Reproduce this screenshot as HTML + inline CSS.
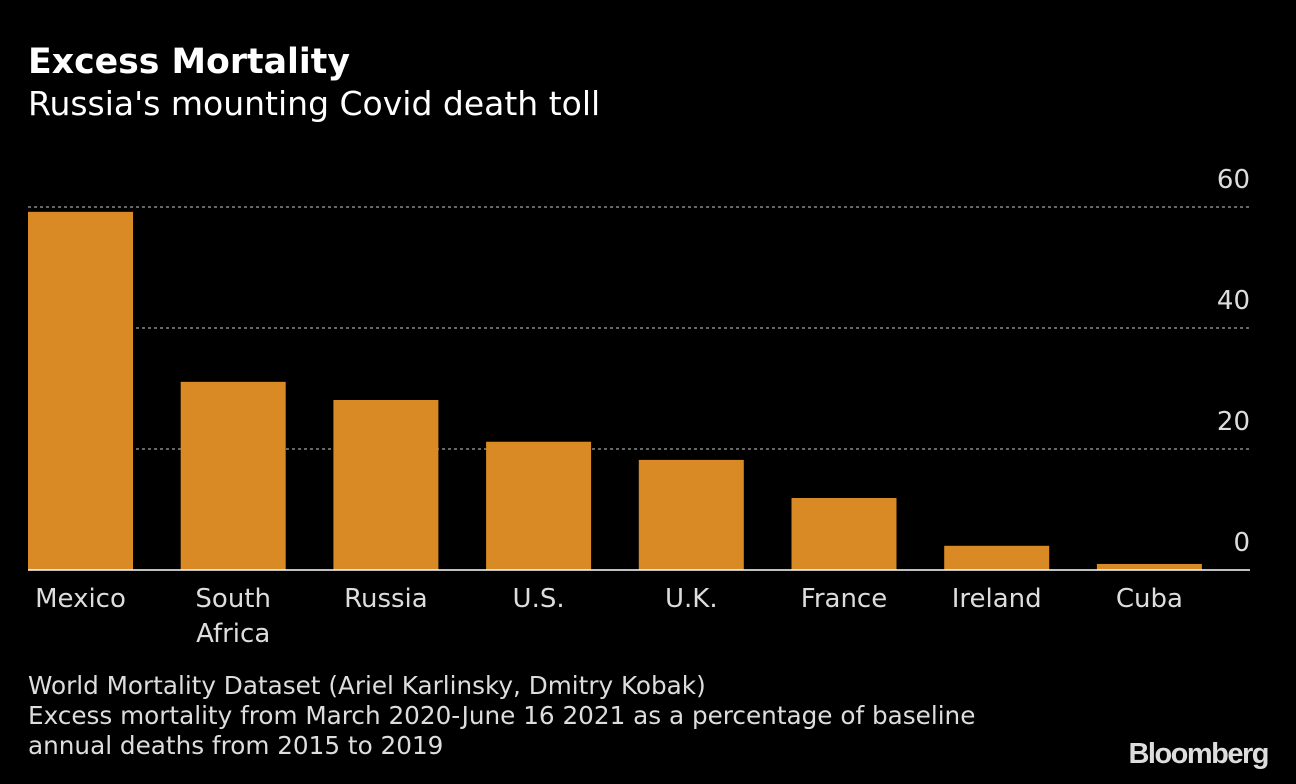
<!DOCTYPE html>
<html><head><meta charset="utf-8">
<style>
html,body{margin:0;padding:0;background:#000;}
body{width:1296px;height:784px;position:relative;overflow:hidden;font-family:"DejaVu Sans","Liberation Sans",sans-serif;color:#fff;}
.t{position:absolute;white-space:nowrap;}
</style></head>
<body>
<div class="t" style="left:28px;top:42px;font-size:34.7px;font-weight:bold;">Excess Mortality</div>
<div class="t" style="left:28px;top:84px;font-size:33px;">Russia's mounting Covid death toll</div>
<svg id="chart" width="1296" height="784" style="position:absolute;left:0;top:0;"></svg>
<div class="t" style="left:28px;top:671px;font-size:24.7px;color:#ddd;line-height:30px;">World Mortality Dataset (Ariel Karlinsky, Dmitry Kobak)<br>Excess mortality from March 2020-June 16 2021 as a percentage of baseline<br>annual deaths from 2015 to 2019</div>
<div class="t" style="right:28px;top:738px;font-size:29px;font-weight:bold;letter-spacing:-1.5px;color:#ddd;font-family:'Liberation Sans',sans-serif;">Bloomberg</div>
<script>
const categories=["Mexico","South Africa","Russia","U.S.","U.K.","France","Ireland","Cuba"];
const values=[59.2,31.1,28.1,21.2,18.2,11.9,4.0,1.0];
const ticks=[0,20,40,60];
const NS="http://www.w3.org/2000/svg";
const svg=document.getElementById('chart');
const y0=570,pxPer=6.05,left=28,right=1250,step=152.7,bw=105;
const y=v=>y0-v*pxPer;
const x=i=>left+i*step;
const FF='DejaVu Sans, Liberation Sans, sans-serif';
function mk(t,a){const e=document.createElementNS(NS,t);for(const k in a)e.setAttribute(k,a[k]);svg.appendChild(e);return e;}
ticks.forEach(t=>{
 if(t>0){const g=mk('line',{x1:left,x2:right,y1:y(t),y2:y(t),stroke:'#888','stroke-width':1.5,'stroke-dasharray':'3,3'});
 
 }
 const l=mk('text',{x:right,y:y(t)-19,'text-anchor':'end',fill:'#ddd','font-size':26,'font-family':FF});
 l.textContent=t;
 
 
});
values.forEach((v,i)=>{
 const r=mk('rect',{x:x(i),y:y(v),width:bw,height:v*pxPer,fill:'#d98a24'});
 
 
 const words=categories[i].split(' ');
 words.forEach((w,j)=>{
  const tx=mk('text',{x:x(i)+bw/2,y:607+j*35,'text-anchor':'middle',fill:'#ddd','font-size':26,'font-family':FF});
  tx.textContent=w;
  
  
 });
});
const ax=mk('line',{x1:left,x2:right,y1:y0,y2:y0,stroke:'#fff','stroke-width':1.5});


</script>
</body></html>
